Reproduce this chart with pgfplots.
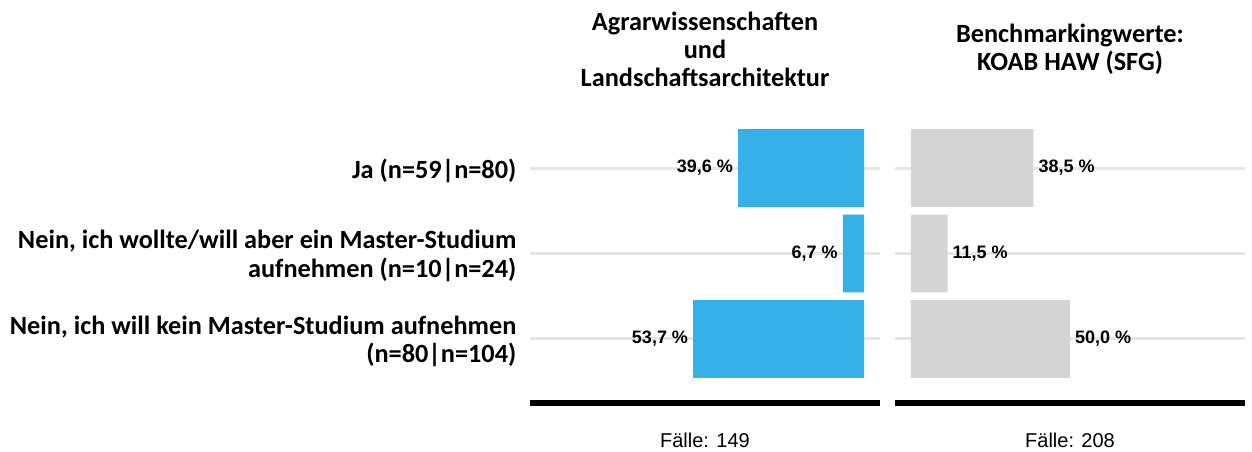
\documentclass[border=0pt]{standalone}
\usepackage{pgfplots}
\pgfplotsset{compat=1.18}
\usepackage{fontspec}
\setmainfont{Liberation Sans}
\newfontfamily\calibri{Carlito}
\definecolor{barblue}{HTML}{35B0E8}
\definecolor{bargray}{HTML}{D4D4D4}
\definecolor{gridgray}{HTML}{E6E6E6}
\begin{document}
\begin{tikzpicture}
\useasboundingbox (0pt,0pt) rectangle (1252pt,452pt);
\pgfplotsset{
  panel/.style={
    anchor=south west, width=350pt, height=299pt, scale only axis,
    xmin=-5, xmax=105, ymin=0.25, ymax=3.75, y dir=reverse,
    ytick={1,2,3}, xtick=\empty, major tick length=0pt,
    ymajorgrids, major grid style={draw=gridgray, line width=3pt},
    axis line style={draw=none},
    xbar, bar width=0.91,
    clip=false,
    point meta=x,
    nodes near coords={\pgfmathprintnumber{\pgfplotspointmeta}~\%},
    /pgf/number format/fixed,
    /pgf/number format/fixed zerofill,
    /pgf/number format/precision=1,
    /pgf/number format/use comma,
    /pgf/number format/assume math mode=true,
    title style={font=\calibri\fontsize{26.3}{28}\selectfont\bfseries, align=center, anchor=center, at={(0.5,1)}, yshift=48.5pt},
  }
}
\begin{axis}[panel, at={(530pt,49pt)},
  x dir=reverse,
  title={Agrarwissenschaften\\und\\Landschaftsarchitektur},
  yticklabels={{Ja (n=59|n=80)},{Nein, ich wollte/will aber ein Master-Studium\\aufnehmen (n=10|n=24)},{Nein, ich will kein Master-Studium aufnehmen\\(n=80|n=104)}},
  yticklabel style={font=\calibri\fontsize{26.3}{28.4}\selectfont\bfseries, align=right, inner sep=0pt, xshift=-13.5pt, yshift=-2.5pt},
  every node near coord/.append style={font=\fontsize{18}{20}\selectfont\bfseries, text=black, inner sep=0pt, anchor=east, xshift=-5pt},
]
\addplot[fill=barblue, draw=none] coordinates {(39.6,1) (6.7,2) (53.7,3)};
\draw[line width=6pt, black] (axis description cs:0,0) -- (axis description cs:1,0);
\node[font=\fontsize{20}{22}\selectfont, anchor=base, yshift=-44pt] at (axis description cs:0.5,0) {Fälle: 149};
\end{axis}
\begin{axis}[panel, at={(895pt,49pt)},
  title={Benchmarkingwerte:\\KOAB HAW (SFG)},
  yticklabels={,,},
  every node near coord/.append style={font=\fontsize{18}{20}\selectfont\bfseries, text=black, inner sep=0pt, anchor=west, xshift=5pt},
]
\addplot[fill=bargray, draw=none] coordinates {(38.5,1) (11.5,2) (50.0,3)};
\draw[line width=6pt, black] (axis description cs:0,0) -- (axis description cs:1,0);
\node[font=\fontsize{20}{22}\selectfont, anchor=base, yshift=-44pt] at (axis description cs:0.5,0) {Fälle: 208};
\end{axis}
\end{tikzpicture}
\end{document}
